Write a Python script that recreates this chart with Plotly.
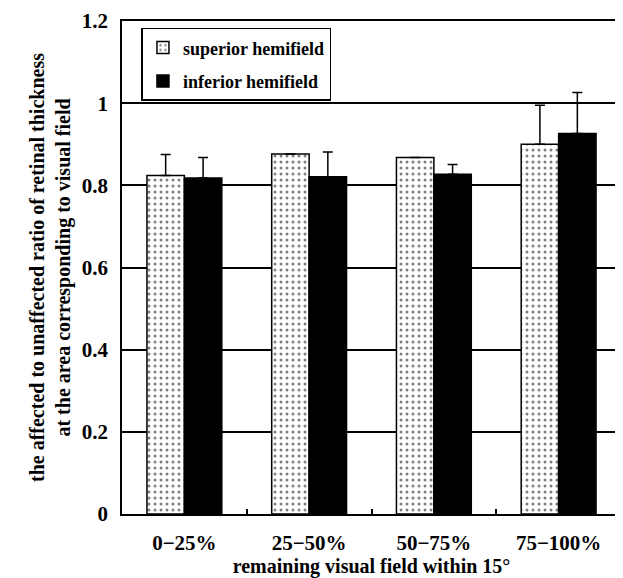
import plotly.graph_objects as go

categories = ["0\u221225%", "25\u221250%", "50\u221275%", "75\u2212100%"]
superior = [0.824, 0.876, 0.868, 0.900]
superior_err = [0.051, 0.0, 0.0, 0.095]
inferior = [0.818, 0.821, 0.827, 0.926]
inferior_err = [0.050, 0.060, 0.024, 0.100]
y_ticks = [0, 0.2, 0.4, 0.6, 0.8, 1, 1.2]
y_tick_labels = ["0", "0.2", "0.4", "0.6", "0.8", "1", "1.2"]

FONT = "Liberation Serif, Times New Roman, serif"

fig = go.Figure()
fig.add_trace(go.Bar(
    x=categories, y=superior, name="superior hemifield",
    legendgroup="a",
    marker=dict(color="white", line=dict(color="black", width=1.5),
                pattern=dict(shape=".", fgcolor="black", bgcolor="white",
                             size=6, solidity=0.2)),
    error_y=dict(type="data", symmetric=False, array=superior_err,
                 arrayminus=[0] * 4, color="black", thickness=1.5, width=5),
))
fig.add_trace(go.Bar(
    x=categories, y=inferior, name="inferior hemifield",
    legendgroup="b",
    marker=dict(color="black", line=dict(color="black", width=1.5)),
    error_y=dict(type="data", symmetric=False, array=inferior_err,
                 arrayminus=[0] * 4, color="black", thickness=1.5, width=5),
))

fig.update_layout(
    width=623, height=578,
    margin=dict(l=114, r=10, t=13, b=72),
    paper_bgcolor="white", plot_bgcolor="white",
    barmode="group", bargap=0.4, bargroupgap=0,
    font=dict(family=FONT, size=20, color="black", weight="bold"),
    showlegend=True,
    legend=dict(x=0.039, y=0.986, xanchor="left", yanchor="top",
                bgcolor="white", bordercolor="black", borderwidth=1.5,
                font=dict(family=FONT, size=18, color="black", weight="bold"),
                traceorder="grouped", tracegroupgap=7),
    xaxis=dict(
        type="category", automargin=False,
        showline=True, linecolor="black", linewidth=1.5,
        mirror=True, ticks="inside", tickson="boundaries", ticklen=5,
        tickcolor="black", tickwidth=1.5, showgrid=False,
        ticklabelstandoff=9,
        tickfont=dict(family=FONT, size=21, color="black", weight="bold"),
        title=dict(text="remaining visual field within 15\u00b0",
                   font=dict(family=FONT, size=20, color="black", weight="bold"),
                   standoff=0),
    ),
    yaxis=dict(
        range=[0, 1.2], tickvals=y_ticks, ticktext=y_tick_labels,
        automargin=False, ticklabeloverflow="allow",
        showline=True, linecolor="black", linewidth=1.5, mirror=True,
        showgrid=True, gridcolor="black", gridwidth=1.5, zeroline=False,
        ticks="", ticklabelstandoff=8,
        tickfont=dict(family=FONT, size=21, color="black", weight="bold"),
        title=dict(text="the affected to unaffected ratio of retinal thickness<br>at the area corresponding to visual field",
                   font=dict(family=FONT, size=20, color="black", weight="bold"),
                   standoff=6),
    ),
)

fig.write_html("out.html")
